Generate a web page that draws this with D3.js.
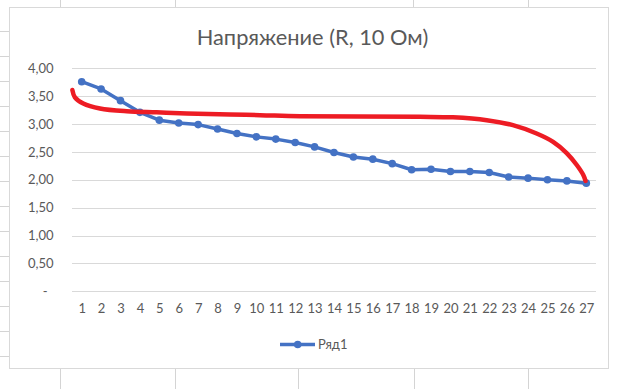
<!DOCTYPE html>
<html>
<head>
<meta charset="utf-8">
<script src="https://cdn.jsdelivr.net/npm/d3@7"></script>
<style>
  body { margin: 0; background: #fff; }
  svg { display: block; font-family: Lato, "Open Sans", sans-serif; }
</style>
</head>
<body>
<script>
//chart values
var categories = [1, 2, 3, 4, 5, 6, 7, 8, 9, 10, 11, 12, 13, 14, 15, 16, 17, 18, 19, 20, 21, 22, 23, 24, 25, 26, 27];
var voltage = [3.76, 3.63, 3.42, 3.21, 3.07, 3.02, 2.99, 2.91, 2.83, 2.77, 2.73, 2.67, 2.59, 2.49, 2.41,
               2.37, 2.29, 2.18, 2.19, 2.15, 2.15, 2.13, 2.05, 2.03, 2.00, 1.98, 1.94];
var yTicks = [0, 0.5, 1, 1.5, 2, 2.5, 3, 3.5, 4];
var seriesName = "Ряд1";
var title = "Напряжение (R, 10 Ом)";

//red freehand stroke drawn over the chart (category position, value)
var redX = [0.52, 0.65, 1.08, 1.94, 3.32, 4.86, 6.41, 8.64, 10.19, 12.25, 18.43, 20.13, 21.87, 23.22, 24.44, 25.29, 25.99, 26.5, 26.84, 26.96];
var redY = [3.61, 3.48, 3.37, 3.28, 3.23, 3.21, 3.19, 3.17, 3.16, 3.14, 3.13, 3.12, 3.07, 2.98, 2.83, 2.68, 2.48, 2.27, 2.09, 1.98];

window.onload = drawChart();

function drawChart() {
    var width = 623,
        height = 389;

    var svg = d3.select("body")
        .append("svg")
        .attr("width", width)
        .attr("height", height);

    //spreadsheet cell lines around the chart object
    var cellColor = "#d4d4d4";
    [60, 175, 413, 528].forEach(function(cx) {
        svg.append("line").attr("x1", cx + 0.5).attr("x2", cx + 0.5)
            .attr("y1", 0).attr("y2", 7).attr("stroke", cellColor);
    });
    [60, 175, 298, 414, 528].forEach(function(cx) {
        svg.append("line").attr("x1", cx + 0.5).attr("x2", cx + 0.5)
            .attr("y1", 369).attr("y2", height).attr("stroke", cellColor);
    });
    d3.range(31.5, 369, 25).forEach(function(ry) {
        svg.append("line").attr("x1", 0).attr("x2", 9)
            .attr("y1", ry).attr("y2", ry).attr("stroke", cellColor);
    });

    //chart area
    svg.append("rect")
        .attr("x", 9.5).attr("y", 7.5)
        .attr("width", 599).attr("height", 361)
        .attr("fill", "#fff")
        .attr("stroke", "#d9d9d9");

    var x = d3.scaleLinear()
        .domain([0.5, 27.5])
        .range([72, 596]);

    var y = d3.scaleLinear()
        .domain([0, 4])
        .range([291.3, 68.3]);

    //title
    svg.append("text")
        .attr("x", 312.5)
        .attr("y", 45)
        .attr("text-anchor", "middle")
        .attr("fill", "#595959")
        .style("font-size", "21.8px")
        .text(title);

    //gridlines
    svg.append("g")
        .selectAll("line")
        .data(yTicks)
        .enter()
        .append("line")
        .attr("x1", x.range()[0])
        .attr("x2", x.range()[1])
        .attr("y1", function(d) { return Math.round(y(d)) + 0.5; })
        .attr("y2", function(d) { return Math.round(y(d)) + 0.5; })
        .attr("stroke", "#d9d9d9");

    //y axis labels
    var fmt = d3.format(".2f");
    var yAxis = d3.axisLeft(y)
        .tickValues(yTicks)
        .tickSize(0)
        .tickPadding(0)
        .tickFormat(function(d) { return d === 0 ? "-" : fmt(d).replace(".", ","); });

    var yg = svg.append("g")
        .attr("transform", "translate(53.5,0)")
        .call(yAxis);
    yg.select(".domain").remove();
    yg.selectAll("text")
        .attr("fill", "#595959")
        .style("font-size", "13px")
        .style("font-family", "Lato, sans-serif")
        .attr("dx", function(d) { return d === 0 ? -6 : 0; });

    //x axis labels
    var xAxis = d3.axisBottom(x)
        .tickValues(categories)
        .tickSize(0)
        .tickPadding(0)
        .tickFormat(d3.format("d"));

    var xg = svg.append("g")
        .attr("transform", "translate(0,304)")
        .call(xAxis);
    xg.select(".domain").remove();
    xg.selectAll("text")
        .attr("fill", "#595959")
        .style("font-size", "13px")
        .style("font-family", "Lato, sans-serif");

    //series line
    var line = d3.line()
        .x(function(d, i) { return x(categories[i]); })
        .y(function(d) { return y(d); });

    svg.append("path")
        .datum(voltage)
        .attr("fill", "none")
        .attr("stroke", "#4472c4")
        .attr("stroke-width", 3.5)
        .attr("stroke-linejoin", "round")
        .attr("d", line);

    svg.append("g")
        .selectAll("circle")
        .data(voltage)
        .enter()
        .append("circle")
        .attr("cx", function(d, i) { return x(categories[i]); })
        .attr("cy", function(d) { return y(d); })
        .attr("r", 3.8)
        .attr("fill", "#4472c4");

    //red overlay stroke
    var redLine = d3.line()
        .x(function(d) { return x(d[0]); })
        .y(function(d) { return y(d[1]); })
        .curve(d3.curveCatmullRom);

    svg.append("path")
        .datum(d3.zip(redX, redY))
        .attr("fill", "none")
        .attr("stroke", "#ed1c24")
        .attr("stroke-width", 4.5)
        .attr("stroke-linecap", "round")
        .attr("stroke-linejoin", "round")
        .attr("d", redLine);

    //legend
    var legend = svg.append("g").attr("transform", "translate(280,344.5)");
    legend.append("line")
        .attr("x1", 0).attr("x2", 35)
        .attr("stroke", "#4472c4")
        .attr("stroke-width", 3.5);
    legend.append("circle")
        .attr("cx", 17.7)
        .attr("r", 3.8)
        .attr("fill", "#4472c4");
    legend.append("text")
        .attr("x", 38)
        .attr("y", 4.5)
        .attr("fill", "#595959")
        .style("font-size", "13px")
        .text(seriesName);
}
</script>
</body>
</html>
